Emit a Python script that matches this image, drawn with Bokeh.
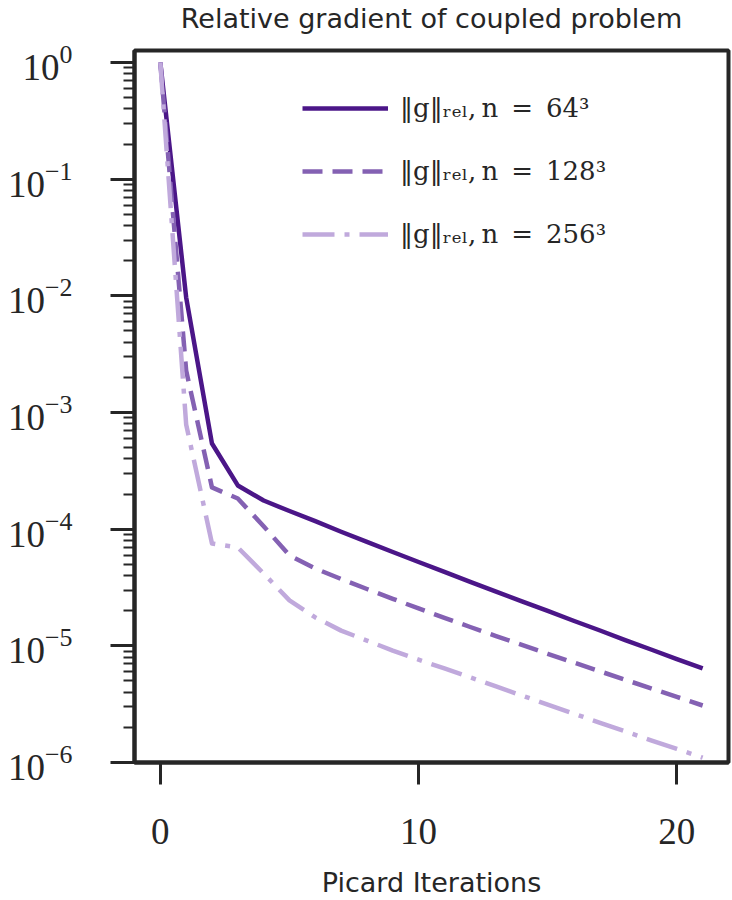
from bokeh.plotting import figure
from bokeh.models import Range1d, FixedTicker, LogTickFormatter, Legend, LegendItem, Title
from bokeh.embed import file_html
from bokeh.resources import INLINE

# ---- data ----
iterations = list(range(0, 22))

grad_64 = [1.0, 9.7e-3, 5.42e-4, 2.37e-4, 1.76e-4, 1.43e-4, 1.17e-4, 9.5e-5,
           7.78e-5, 6.37e-5, 5.23e-5, 4.30e-5, 3.54e-5, 2.92e-5, 2.40e-5,
           1.99e-5, 1.64e-5, 1.36e-5, 1.12e-5, 9.3e-6, 7.7e-6, 6.4e-6]

grad_128 = [1.0, 2.29e-3, 2.28e-4, 1.83e-4, 1.06e-4, 5.95e-5, 4.6e-5, 3.74e-5,
            3.07e-5, 2.53e-5, 2.09e-5, 1.74e-5, 1.45e-5, 1.21e-5, 1.02e-5,
            8.55e-6, 7.2e-6, 6.07e-6, 5.12e-6, 4.32e-6, 3.65e-6, 3.08e-6]

grad_256 = [1.0, 7.9e-4, 7.54e-5, 6.97e-5, 4.17e-5, 2.45e-5, 1.75e-5, 1.35e-5,
            1.11e-5, 9.1e-6, 7.6e-6, 6.4e-6, 5.36e-6, 4.49e-6, 3.75e-6,
            3.14e-6, 2.63e-6, 2.20e-6, 1.85e-6, 1.55e-6, 1.31e-6, 1.10e-6]

series_labels = ["‖g‖ᵣₑₗ,\u2009n\u2002=\u200264³",
                 "‖g‖ᵣₑₗ,\u2009n\u2002=\u2002128³",
                 "‖g‖ᵣₑₗ,\u2009n\u2002=\u2002256³"]
x_ticks = [0, 10, 20]
y_major_ticks = [1e-6, 1e-5, 1e-4, 1e-3, 1e-2, 1e-1, 1e0]

title_text = "Relative gradient of coupled problem"
x_label = "Picard Iterations"

# ---- styles ----
colors = ["#4b1688", "#8461b3", "#c0a9dc"]
dashes = ["solid", "20 10", "32 10 5 10"]
DARK = "#262626"
SANS = "DejaVu Sans"
SERIF = "Liberation Serif"

p = figure(width=732, height=900, y_axis_type="log",
           x_range=Range1d(-1, 22), y_range=Range1d(1e-6, 1.267),
           output_backend="svg", toolbar_location=None,
           min_border_left=134, min_border_right=4,
           min_border_top=50, min_border_bottom=138)
p.title_location = None

# spacer between frame and title (closest to the frame), then the title
spacer = Title(text=" ", text_font_size="13px", standoff=0)
main_title = Title(text=title_text, align="center", text_font=SANS,
                   text_font_size="27px", text_font_style="normal",
                   text_color=DARK, standoff=0)
p.add_layout(spacer, "above")
p.add_layout(main_title, "above")

p.xgrid.visible = False
p.ygrid.visible = False
p.background_fill_color = "white"
p.border_fill_color = "white"
p.outline_line_color = DARK
p.outline_line_width = 4

renderers = []
for ys, c, d in zip([grad_64, grad_128, grad_256], colors, dashes):
    r = p.line(iterations, ys, line_color=c, line_width=4.5, line_dash=d,
               line_cap="butt", line_join="round")
    renderers.append(r)

# x axis
xa = p.xaxis[0]
xa.ticker = FixedTicker(ticks=x_ticks, minor_ticks=[])
xa.axis_line_width = 4
xa.axis_line_color = DARK
xa.major_tick_line_width = 3
xa.major_tick_line_color = DARK
xa.major_tick_in = 0
xa.major_tick_out = 22
xa.minor_tick_line_color = None
xa.major_label_text_font = SERIF
xa.major_label_text_font_size = "37px"
xa.major_label_text_color = DARK
xa.major_label_standoff = 34
xa.axis_label = x_label
xa.axis_label_text_font = SANS
xa.axis_label_text_font_size = "27px"
xa.axis_label_text_font_style = "normal"
xa.axis_label_text_color = DARK
xa.axis_label_standoff = 20

# y axis
minor = []
for e in range(-6, 0):
    for k in range(2, 10):
        minor.append(k * 10.0 ** e)
ya = p.yaxis[0]
ya.ticker = FixedTicker(ticks=y_major_ticks, minor_ticks=minor)
ya.formatter = LogTickFormatter()
ya.axis_line_width = 4
ya.axis_line_color = DARK
ya.major_tick_line_width = 3
ya.major_tick_line_color = DARK
ya.major_tick_in = 0
ya.major_tick_out = 24
ya.minor_tick_line_width = 2
ya.minor_tick_line_color = DARK
ya.minor_tick_in = 0
ya.minor_tick_out = 11
ya.major_label_text_font = SERIF
ya.major_label_text_font_size = "37px"
ya.major_label_text_color = DARK
ya.major_label_standoff = 38

legend = Legend(items=[LegendItem(label=l, renderers=[r]) for l, r in zip(series_labels, renderers)],
                location=(168, 508))
legend.border_line_color = None
legend.background_fill_alpha = 0
legend.padding = 0
legend.margin = 0
legend.spacing = 23
legend.glyph_width = 86
legend.glyph_height = 40
legend.label_height = 40
legend.label_standoff = 12
legend.label_text_font = "DejaVu Serif"
legend.label_text_font_size = "26px"
legend.label_text_color = DARK
p.add_layout(legend, "center")

open("out.html", "w").write(file_html(p, INLINE))
